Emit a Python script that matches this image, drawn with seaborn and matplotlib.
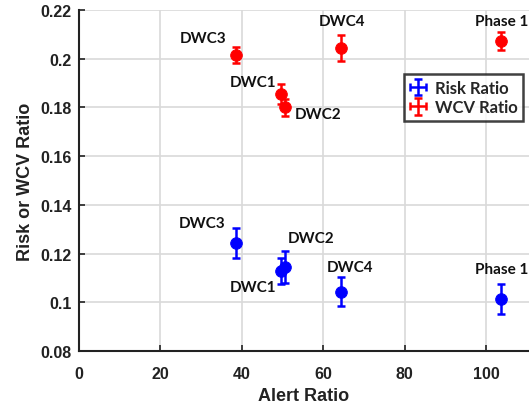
import numpy as np
import pandas as pd
import seaborn as sns
import matplotlib.pyplot as plt

labels = ['DWC1', 'DWC2', 'DWC3', 'DWC4', 'Phase 1']
alert_ratio = [49.7, 50.5, 38.6, 64.3, 103.7]
risk_ratio = [0.1130, 0.1145, 0.1242, 0.1044, 0.1014]
risk_err = [0.0053, 0.0065, 0.0062, 0.0058, 0.0063]
wcv_ratio = [0.1856, 0.1800, 0.2015, 0.2043, 0.2073]
wcv_err = [0.0040, 0.0033, 0.0034, 0.0053, 0.0037]

# label positions (data coords)
risk_lab_x = [42.8, 57.1, 30.3, 66.6, 103.8]
risk_lab_y = [0.1062, 0.1263, 0.1326, 0.1144, 0.1137]
wcv_lab_x = [42.8, 58.8, 30.5, 64.5, 103.8]
wcv_lab_y = [0.1903, 0.1773, 0.2084, 0.2156, 0.2156]

df = pd.DataFrame({'alert': alert_ratio, 'risk': risk_ratio, 'wcv': wcv_ratio})

sns.set_theme(style='whitegrid')
plt.rcParams['font.family'] = ['Liberation Sans', 'DejaVu Sans']

figure = plt.figure(figsize=(5.29, 4.10), dpi=100)
axis = figure.add_axes([0.149, 0.1415, 0.851, 0.8315])

zeros = [0] * len(labels)
axis.errorbar(alert_ratio, risk_ratio, yerr=risk_err, xerr=zeros, fmt='none',
              ecolor='blue', elinewidth=1.8, capsize=3, capthick=1.8, label='Risk Ratio')
axis.errorbar(alert_ratio, wcv_ratio, yerr=wcv_err, xerr=zeros, fmt='none',
              ecolor='red', elinewidth=1.8, capsize=3, capthick=1.8, label='WCV Ratio')
sns.scatterplot(data=df, x='alert', y='risk', ax=axis, color='blue', s=70,
                edgecolor='blue', legend=False, zorder=3)
sns.scatterplot(data=df, x='alert', y='wcv', ax=axis, color='red', s=70,
                edgecolor='red', legend=False, zorder=3)

for i, lab in enumerate(labels):
    axis.text(risk_lab_x[i], risk_lab_y[i], lab, ha='center', va='center',
              fontsize=11, fontweight='bold', family='Lato', color='#111111')
    axis.text(wcv_lab_x[i], wcv_lab_y[i], lab, ha='center', va='center',
              fontsize=11, fontweight='bold', family='Lato', color='#111111')

axis.set_xlim(0, 110.5)
axis.set_ylim(0.08, 0.22)
axis.set_xticks([0, 20, 40, 60, 80, 100])
axis.set_yticks([0.08, 0.1, 0.12, 0.14, 0.16, 0.18, 0.2, 0.22])
axis.set_yticklabels(['0.08', '0.1', '0.12', '0.14', '0.16', '0.18', '0.2', '0.22'])
axis.set_xlabel('Alert Ratio', fontsize=13, fontweight='bold', color='#222222', labelpad=4)
axis.set_ylabel('Risk or WCV Ratio', fontsize=13, fontweight='bold', color='#222222', labelpad=5)
axis.tick_params(axis='both', labelsize=11.5, direction='in', length=4, width=1.2,
                 colors='#222222', left=True, bottom=True)
axis.tick_params(axis='x', pad=11)
axis.tick_params(axis='y', pad=5)
for t in axis.get_xticklabels() + axis.get_yticklabels():
    t.set_fontweight('bold')

axis.grid(True, color='#d9d9d9', linewidth=1.2)
axis.spines['top'].set_visible(False)
axis.spines['right'].set_visible(False)
axis.spines['left'].set_color('#222222')
axis.spines['bottom'].set_color('#222222')
axis.spines['left'].set_linewidth(1.5)
axis.spines['bottom'].set_linewidth(1.5)

leg = axis.legend(loc='upper right', bbox_to_anchor=(0.995, 0.822), frameon=True,
                  fancybox=False, edgecolor='#111111', handlelength=1.0,
                  handletextpad=0.5, borderpad=0.35, labelspacing=0.2,
                  borderaxespad=0.2,
                  prop={'weight': 'bold', 'size': 12, 'family': 'Lato'})
leg.get_frame().set_linewidth(1.8)
leg.set_zorder(5)

figure.savefig('out.png', dpi=100)
